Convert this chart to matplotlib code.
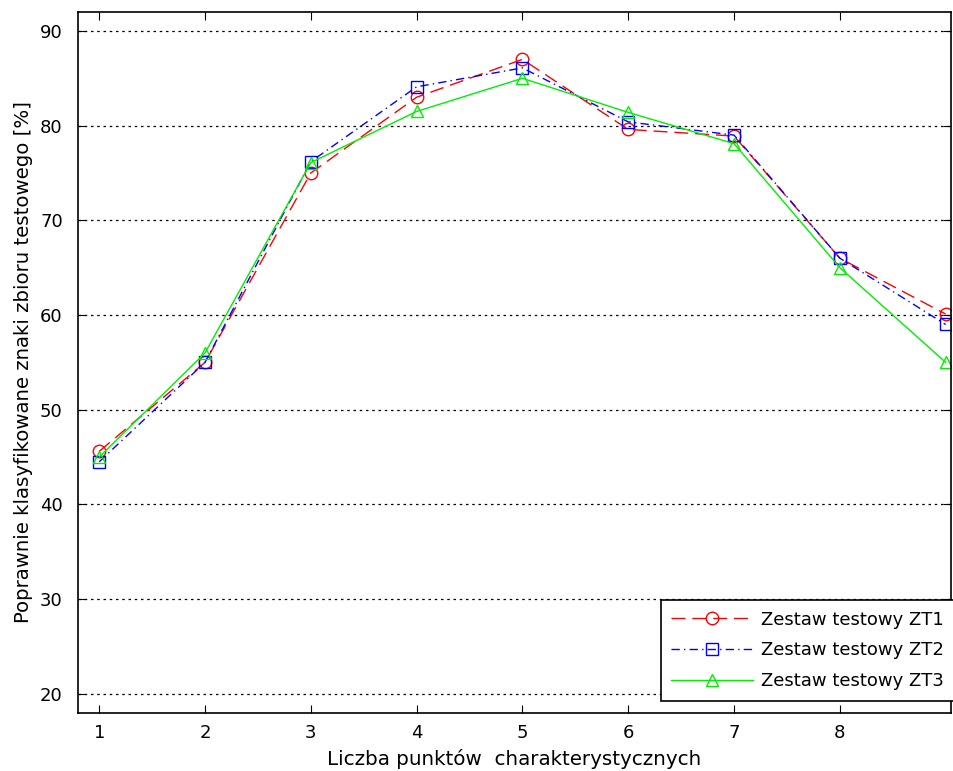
import numpy as np
import matplotlib
matplotlib.use("Agg")
import matplotlib.pyplot as plt

# dane
liczba_punktow = [1, 2, 3, 4, 5, 6, 7, 8, 9]
zt1 = [45.6, 55.0, 75.0, 83.0, 87.0, 79.6, 78.9, 66.0, 60.1]
zt2 = [44.5, 55.0, 76.2, 84.1, 86.1, 80.4, 79.0, 66.0, 59.0]
zt3 = [45.0, 56.0, 76.1, 81.5, 85.0, 81.4, 78.1, 65.0, 55.0]
etykiety = ["Zestaw testowy ZT1", "Zestaw testowy ZT2", "Zestaw testowy ZT3"]
x_ticks = [1, 2, 3, 4, 5, 6, 7, 8]
y_ticks = [20, 30, 40, 50, 60, 70, 80, 90]

plt.rcParams["font.family"] = ["DejaVu Sans"]

fig = plt.figure(figsize=(9.54, 7.71), dpi=100)
ax = fig.add_axes([0.0818, 0.0756, 0.915, 0.9088])

ax.plot(liczba_punktow, zt1, color="#ff0000", linestyle=(0, (10, 5)), lw=1,
        marker="o", ms=9, mfc="none", mew=1, label=etykiety[0])
ax.plot(liczba_punktow, zt2, color="#0000ff", linestyle=(0, (6, 3, 1, 3)), lw=1,
        marker="s", ms=9, mfc="none", mew=1, label=etykiety[1])
ax.plot(liczba_punktow, zt3, color="#00ee00", linestyle="-", lw=1,
        marker="^", ms=9, mfc="none", mew=1, label=etykiety[2])

ax.set_xlim(0.8, 9.05)
ax.set_ylim(18, 92)
ax.set_xticks(x_ticks)
ax.set_yticks(y_ticks)
ax.tick_params(direction="in", top=True, right=True, length=6, labelsize=13)
ax.tick_params(axis="x", pad=8)
ax.tick_params(axis="y", pad=11)
ax.yaxis.grid(True, linestyle=(0, (2, 3)), color="black", lw=0.9)
for s in ax.spines.values():
    s.set_linewidth(1.2)

ax.set_xlabel("Liczba punktów  charakterystycznych", fontsize=14.3, labelpad=5)
ax.set_ylabel("Poprawnie klasyfikowane znaki zbioru testowego [%]", fontsize=14.2, labelpad=5)

leg = ax.legend(loc="lower right", bbox_to_anchor=(1.004, 0.017), fontsize=13,
                fancybox=False, framealpha=1, edgecolor="black",
                handlelength=4.5, handletextpad=0.45, borderpad=0.6,
                labelspacing=0.7, borderaxespad=0)
leg.get_frame().set_linewidth(1.2)

fig.savefig("out.png", dpi=100)
